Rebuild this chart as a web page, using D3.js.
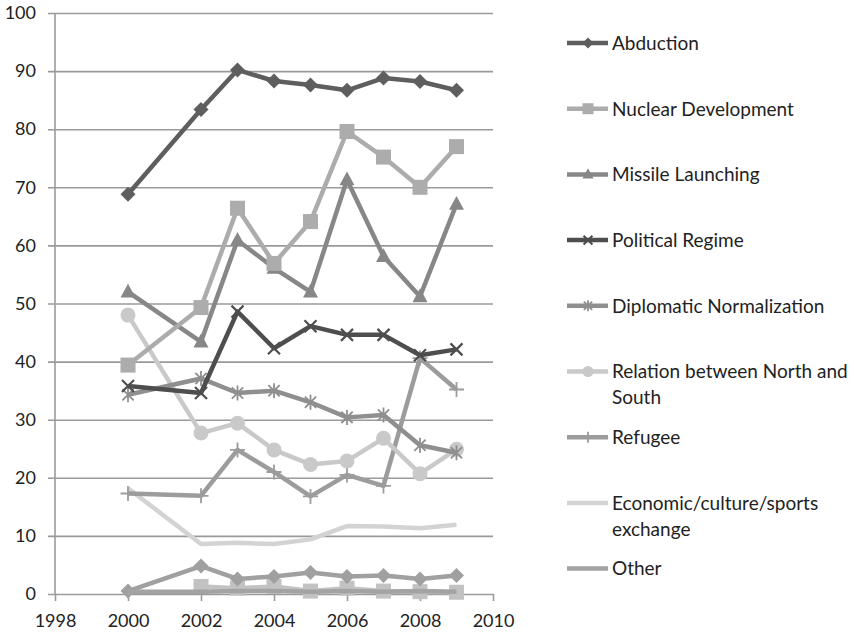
<!DOCTYPE html>
<html>
<head>
<meta charset="utf-8">
<script src="https://cdn.jsdelivr.net/npm/d3@7"></script>
<style>
  html, body { margin: 0; padding: 0; background: #fff; }
  svg { display: block; }
  text { font-family: Lato, "Open Sans", sans-serif; fill: #222; }
</style>
</head>
<body>
<svg id="chart" width="854" height="634"></svg>
<script>
// Survey years (no 2001 survey)
const years = [2000, 2002, 2003, 2004, 2005, 2006, 2007, 2008, 2009];

// Share of respondents (%) per topic of interest
const abduction   = [68.8, 83.4, 90.2, 88.3, 87.6, 86.7, 88.8, 88.2, 86.7];
const nuclear     = [39.4, 49.3, 66.4, 56.9, 64.1, 79.6, 75.2, 70.0, 77.0];
const missile     = [52.0, 43.4, 60.9, 56.1, 52.0, 71.3, 58.1, 51.2, 67.1];
const political   = [35.8, 34.6, 48.6, 42.3, 46.1, 44.6, 44.6, 41.1, 42.1];
const diplomatic  = [34.3, 37.1, 34.6, 35.0, 33.0, 30.4, 30.8, 25.6, 24.3];
const northSouth  = [48.0, 27.7, 29.4, 24.8, 22.3, 22.9, 26.8, 20.7, 24.9];
const refugee     = [17.3, 16.9, 24.8, 21.0, 16.8, 20.5, 18.6, 40.6, 35.2];
const exchange    = [18.2, 8.6, 8.8, 8.6, 9.4, 11.7, 11.6, 11.3, 11.9];
const other       = [0.4, 0.4, 0.5, 0.5, 0.4, 0.5, 0.4, 0.5, 0.4];
const noInterest  = [0.5, 4.8, 2.6, 3.0, 3.7, 3.0, 3.2, 2.6, 3.2];
const dontKnow    = [null, 1.3, 1.0, 1.3, 0.5, 1.0, 0.5, 0.4, 0.3];

// Axis ticks
const xTicks = [1998, 2000, 2002, 2004, 2006, 2008, 2010];
const yTicks = [0, 10, 20, 30, 40, 50, 60, 70, 80, 90, 100];

// Series: label (legend), values, colour, marker
const series = [
  { label: ["Abduction"], values: abduction, color: "#5e5e5e", marker: "diamond", legend: true },
  { label: ["Nuclear Development"], values: nuclear, color: "#acacac", marker: "square", legend: true },
  { label: ["Missile Launching"], values: missile, color: "#878787", marker: "triangle", legend: true },
  { label: ["Political Regime"], values: political, color: "#4e4e4e", marker: "x", legend: true },
  { label: ["Diplomatic Normalization"], values: diplomatic, color: "#8f8f8f", marker: "star", legend: true },
  { label: ["Relation between North and", "South"], values: northSouth, color: "#c9c9c9", marker: "circle", legend: true },
  { label: ["Refugee"], values: refugee, color: "#9c9c9c", marker: "plus", legend: true },
  { label: ["Economic/culture/sports", "exchange"], values: exchange, color: "#d3d3d3", marker: "none", legend: true },
  { label: ["Other"], values: other, color: "#a3a3a3", marker: "none", legend: true },
  { label: ["No interest"], values: noInterest, color: "#a0a0a0", marker: "diamond", legend: false },
  { label: ["Don't know"], values: dontKnow, color: "#c2c2c2", marker: "square", legend: false }
];

const svg = d3.select("#chart");
const plot = { left: 55, right: 493, top: 13, bottom: 594 };

const x = d3.scaleLinear().domain([1998, 2010]).range([plot.left, plot.right]);
const y = d3.scaleLinear().domain([0, 100]).range([plot.bottom, plot.top]);

// Horizontal gridlines with left tick marks
const yAxis = d3.axisLeft(y).tickValues(yTicks).tickSize(-(plot.right - plot.left)).tickPadding(19).tickFormat(d3.format("d"));
const gy = svg.append("g").attr("transform", `translate(${plot.left},0)`).call(yAxis);
gy.select(".domain").remove();
gy.selectAll(".tick line").attr("stroke", "#9a9a9a").attr("stroke-width", 1.6).attr("x1", -7);
gy.selectAll(".tick text").style("font-size", "18px").attr("fill", "#222");

// Vertical axis line
svg.append("line")
  .attr("x1", plot.left).attr("x2", plot.left)
  .attr("y1", plot.top).attr("y2", plot.bottom)
  .attr("stroke", "#9a9a9a").attr("stroke-width", 1.6);

// X axis with ticks below the baseline
const xAxis = d3.axisBottom(x).tickValues(xTicks).tickSize(7).tickPadding(13).tickFormat(d3.format("d"));
const gx = svg.append("g").attr("transform", `translate(0,${plot.bottom})`).call(xAxis);
gx.select(".domain").remove();
gx.selectAll(".tick line").attr("stroke", "#9a9a9a").attr("stroke-width", 1.6);
gx.selectAll(".tick text").style("font-size", "18px").attr("fill", "#222");

// Marker drawing
function drawMarker(g, type, color, s) {
  if (type === "diamond") {
    g.append("path").attr("d", `M0,${-s}L${s},0L0,${s}L${-s},0Z`).attr("fill", color);
  } else if (type === "square") {
    g.append("rect").attr("x", -s).attr("y", -s).attr("width", s * 2).attr("height", s * 2).attr("fill", color);
  } else if (type === "triangle") {
    g.append("path").attr("d", `M0,${-s * 1.1}L${s},${s * 0.75}L${-s},${s * 0.75}Z`).attr("fill", color);
  } else if (type === "circle") {
    g.append("circle").attr("r", s).attr("fill", color);
  } else if (type === "x") {
    const k = s * 0.8;
    g.append("path").attr("d", `M${-k},${-k}L${k},${k}M${-k},${k}L${k},${-k}`)
      .attr("stroke", color).attr("stroke-width", 2.2).attr("fill", "none");
  } else if (type === "star") {
    const k = s * 0.75;
    g.append("path").attr("d", `M${-k},${-k}L${k},${k}M${-k},${k}L${k},${-k}M0,${-s}L0,${s}`)
      .attr("stroke", color).attr("stroke-width", 1.8).attr("fill", "none");
  } else if (type === "plus") {
    g.append("path").attr("d", `M${-s},0L${s},0M0,${-s}L0,${s}`)
      .attr("stroke", color).attr("stroke-width", 1.8).attr("fill", "none");
  }
}

const line = d3.line()
  .defined(d => d.v !== null)
  .x(d => x(d.year))
  .y(d => y(d.v));

const plotG = svg.append("g");
// Draw series in reverse so the first series sits on top
series.slice().reverse().forEach(s => {
  const pts = years.map((yr, i) => ({ year: yr, v: s.values[i] }));
  const g = plotG.append("g");
  g.append("path")
    .datum(pts)
    .attr("d", line)
    .attr("fill", "none")
    .attr("stroke", s.color)
    .attr("stroke-width", 4.5)
    .attr("stroke-linejoin", "round");
  if (s.marker !== "none") {
    pts.filter(d => d.v !== null).forEach(d => {
      const m = g.append("g").attr("transform", `translate(${x(d.year)},${y(d.v)})`);
      drawMarker(m, s.marker, s.color, 7.5);
    });
  }
});

// Legend
const legend = svg.append("g").attr("transform", "translate(567,43)");
const legendStep = 65.7;
series.filter(s => s.legend).forEach((s, i) => {
  const g = legend.append("g").attr("transform", `translate(0,${i * legendStep})`);
  g.append("line").attr("x1", 0).attr("x2", 41).attr("y1", 0).attr("y2", 0)
    .attr("stroke", s.color).attr("stroke-width", 4.5);
  if (s.marker !== "none") {
    const m = g.append("g").attr("transform", "translate(21,0)");
    drawMarker(m, s.marker, s.color, 5.5);
  }
  const t = g.append("text").attr("x", 45).attr("y", 0).style("font-size", "19px");
  s.label.forEach((ln, j) => {
    t.append("tspan").attr("x", 45).attr("dy", j === 0 ? "0.36em" : "1.37em").text(ln);
  });
});
</script>
</body>
</html>
